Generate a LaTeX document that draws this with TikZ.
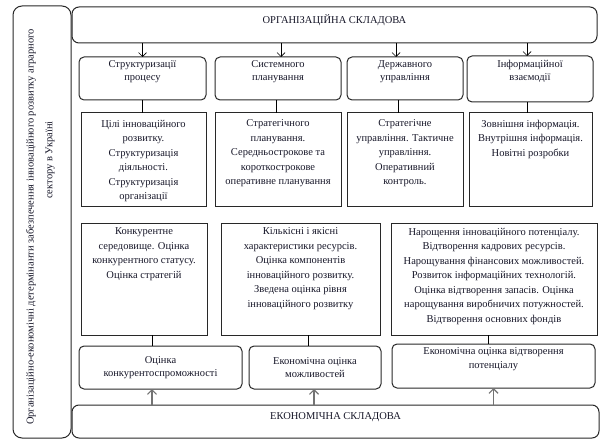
\documentclass[tikz,border=0pt]{standalone}
\usepackage{fontspec}
\setmainfont{Liberation Serif}
\usetikzlibrary{arrows.meta}
\definecolor{ink}{RGB}{22,22,40}
\definecolor{edge}{RGB}{40,40,40}
\begin{document}
\begin{tikzpicture}[x=1pt,y=-1pt,
  every node/.style={inner sep=0pt, outer sep=0pt},
  frame/.style={draw=edge, line width=1pt, rounded corners=7pt, anchor=north west},
  softbox/.style={draw=edge, line width=1pt, rounded corners=5pt, anchor=north west,
    font=\fontsize{10.5}{13.5}\selectfont, text=ink, align=center},
  plainbox/.style={draw=edge, line width=1pt, anchor=north west},
  txt/.style={font=\fontsize{10.5}{14.5}\selectfont, align=center, text=ink},
  link/.style={draw=black, line width=0.7pt},
  down/.style={link, -{Straight Barb[length=4pt,width=8pt]}},
  up/.style={draw=black!55, line width=1.2pt, -{Straight Barb[length=4.5pt,width=9pt]}},
]
\useasboundingbox (0,0) rectangle (608,441);

% outer frame with the vertical title
\node[frame, rounded corners=9pt, minimum width=58pt, minimum height=432pt] (side) at (13,6) {};
\node[txt, rotate=90] (sidea) at (31,227)
  {Організаційно-економічні детермінанти забезпечення інноваційного розвитку аграрного};
\node[txt, rotate=90] (sideb) at (50,160) {сектору в Україні};

% organisational component
\node[frame, minimum width=525pt, minimum height=36pt] (org) at (72,7) {};
\node[txt] (orgt) at ([yshift=-13pt]org.north) {ОРГАНІЗАЦІЙНА СКЛАДОВА};

% second row
\node[softbox, minimum width=127pt, minimum height=43pt] (r2a) at (79,57) {Структуризації\\процесу\\[2pt]};
\node[softbox, minimum width=126pt, minimum height=43pt] (r2b) at (215,57) {Системного\\планування\\[2pt]};
\node[softbox, minimum width=116pt, minimum height=43pt] (r2c) at (347,57) {Державного\\управління\\[2pt]};
\node[softbox, minimum width=126pt, minimum height=46pt] (r2d) at (467,56) {Інформаційної\\взаємодії\\[4pt]};

% third row
\node[plainbox, minimum width=125pt, minimum height=93pt] (r3a) at (81,113) {};
\node[plainbox, minimum width=126pt, minimum height=93pt] (r3b) at (215,113) {};
\node[plainbox, minimum width=116pt, minimum height=93pt] (r3c) at (347,113) {};
\node[plainbox, minimum width=123pt, minimum height=93pt] (r3d) at (469,113) {};
\node[txt, anchor=north] (r3at) at ([yshift=-7pt]r3a.north)
  {Цілі інноваційного\\розвитку.\\Структуризація\\діяльності.\\Структуризація\\організації};
\node[txt, anchor=north] (r3bt) at ([yshift=-7pt]r3b.north)
  {Стратегічного\\планування.\\Середньострокове та\\короткострокове\\оперативне планування};
\node[txt, anchor=north] (r3ct) at ([yshift=-7pt]r3c.north)
  {Стратегічне\\управління. Тактичне\\управління.\\Оперативний\\контроль.};
\node[txt, anchor=north] (r3dt) at ([yshift=-7pt]r3d.north)
  {Зовнішня інформація.\\Внутрішня інформація.\\Новітні розробки};

% fourth row
\node[plainbox, minimum width=126pt, minimum height=112pt] (r4a) at (81,223) {};
\node[plainbox, minimum width=159pt, minimum height=112pt] (r4b) at (221,223) {};
\node[plainbox, minimum width=206pt, minimum height=112pt] (r4c) at (391,223) {};
\node[txt, anchor=north] (r4at) at ([yshift=-5pt]r4a.north)
  {Конкурентне\\середовище. Оцінка\\конкурентного статусу.\\Оцінка стратегій};
\node[txt, anchor=north] (r4bt) at ([yshift=-5pt]r4b.north)
  {Кількісні і якісні\\характеристики ресурсів.\\Оцінка компонентів\\інноваційного розвитку.\\Зведена оцінка рівня\\інноваційного розвитку};
\node[txt, anchor=north] (r4ct) at ([yshift=-5pt]r4c.north)
  {Нарощення інноваційного потенціалу.\\Відтворення кадрових ресурсів.\\Нарощування фінансових можливостей.\\Розвиток інформаційних технологій.\\Оцінка відтворення запасів. Оцінка\\нарощування виробничих потужностей.\\Відтворення основних фондів};

% fifth row
\node[softbox, minimum width=163pt, minimum height=43pt] (r5a) at (79,346) {Оцінка\\конкурентоспроможності};
\node[softbox, minimum width=132pt, minimum height=43pt] (r5b) at (249,346) {Економічна оцінка\\можливостей};
\node[softbox, minimum width=203pt, minimum height=44pt] (r5c) at (392,344) {Економічна оцінка відтворення\\потенціалу\\[2pt]};

% economic component
\node[frame, minimum width=527pt, minimum height=33pt] (eco) at (72,405) {};
\node[txt] (ecot) at ([yshift=-12pt]eco.north) {ЕКОНОМІЧНА СКЛАДОВА};

% arrows from the organisational component
\draw[down] (org.south -| r2a.north) -- (r2a.north);
\draw[down] ([xshift=3pt]r2b.north |- org.south) -- ([xshift=3pt]r2b.north);
\draw[down] ([xshift=-9pt]r2c.north |- org.south) -- ([xshift=-9pt]r2c.north);
\draw[down] ([xshift=-3pt]r2d.north |- org.south) -- ([xshift=-3pt]r2d.north);

% links from the second row to the third
\draw[link] (r2a.south) -- (r2a.south |- r3a.north);
\draw[link] ([xshift=-2pt]r2b.south) -- ([xshift=-2pt]r2b.south |- r3b.north);
\draw[link] ([xshift=-7pt]r2c.south) -- ([xshift=-7pt]r2c.south |- r3c.north);
\draw[link] ([xshift=-3pt]r2d.south) -- ([xshift=-3pt]r2d.south |- r3d.north);

% links from the fourth row to the fifth
\draw[link] ([xshift=8pt]r4a.south) -- ([xshift=8pt]r4a.south |- r5a.north);
\draw[link] ([xshift=7.5pt]r4b.south) -- ([xshift=7.5pt]r4b.south |- r5b.north);
\draw[link] ([xshift=-6pt]r4c.south) -- ([xshift=-6pt]r4c.south |- r5c.north);

% arrows from the economic component
\draw[up] ([xshift=-8.5pt]r5a.south |- eco.north) -- ([xshift=-8.5pt]r5a.south);
\draw[up] ([xshift=-1pt]r5b.south |- eco.north) -- ([xshift=-1pt]r5b.south);
\draw[up] (r5c.south |- eco.north) -- (r5c.south);
\end{tikzpicture}
\end{document}
